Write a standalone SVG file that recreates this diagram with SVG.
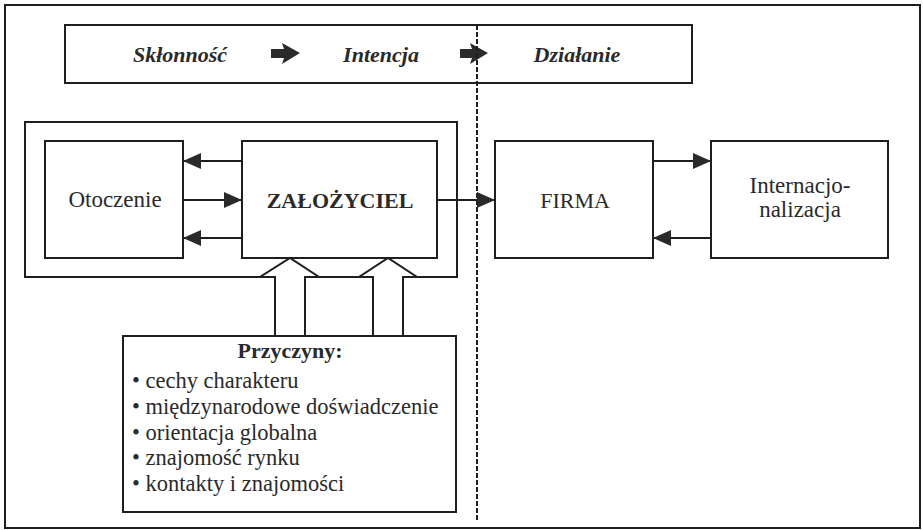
<svg xmlns="http://www.w3.org/2000/svg" width="923" height="530" viewBox="0 0 923 530">
<defs>
<style>
.box{fill:#fff;stroke:#1e1e1e;stroke-width:2}
.ln{fill:none;stroke:#1e1e1e;stroke-width:2}
.t{font-family:"Liberation Serif","DejaVu Serif",serif;font-size:22px;fill:#2a2a2a}
.li{font-size:22.5px}
.b{font-weight:bold}
.bi{font-weight:bold;font-style:italic}
.m{text-anchor:middle}
.blk{fill:#2a2a2a}
</style>
<marker id="ah" viewBox="0 0 18 16" refX="18" refY="8" markerWidth="18" markerHeight="16" markerUnits="userSpaceOnUse" orient="auto">
<path d="M0,0 L18,8 L0,16 Z" fill="#2a2a2a"/>
</marker>
</defs>
<rect x="0" y="0" width="923" height="530" fill="#fff"/>
<rect id="frame" x="5" y="5" width="915" height="523" class="ln"/>

<g id="phases">
<rect x="65" y="25" width="627" height="58" class="box"/>
<text class="t bi m" x="180" y="62">Skłonność</text>
<text class="t bi m" x="381" y="62">Intencja</text>
<text class="t bi m" x="577" y="62">Działanie</text>
<path class="blk" d="M271,49 L284,49 L282,43 L300,53 L282,64 L284,58 L271,58 Z"/>
<path class="blk" d="M460,49 L472,49 L470,43 L488,53 L470,64 L472,58 L460,58 Z"/>
</g>

<g id="container">
<path class="ln" d="M403,277 L457,277 L457,122 L25,122 L25,277 L275,277 M305,277 L373,277"/>
</g>

<g id="otoczenie">
<rect x="45" y="141" width="138" height="117" class="box"/>
<text class="t m" style="font-size:23px" x="115" y="207">Otoczenie</text>
</g>

<g id="zalozyciel">
<rect x="242" y="141" width="195" height="117" class="box"/>
<text class="t b m" x="340" y="208">ZAŁOŻYCIEL</text>
</g>

<g id="firma">
<rect x="495" y="141" width="158" height="117" class="box"/>
<text class="t m" x="575" y="208">FIRMA</text>
</g>

<g id="internacjonalizacja">
<rect x="711" y="141" width="177" height="117" class="box"/>
<text class="t m" style="font-size:23px" x="800" y="193">Internacjo-</text>
<text class="t m" style="font-size:23px" x="800" y="217">nalizacja</text>
</g>

<g id="przyczyny">
<rect x="123" y="336" width="333" height="176" class="box"/>
<text class="t b m" x="290" y="358">Przyczyny:</text>
<text class="t li" x="132" y="388">• cechy charakteru</text>
<text class="t li" x="132" y="414">• międzynarodowe doświadczenie</text>
<text class="t li" x="132" y="440">• orientacja globalna</text>
<text class="t li" x="132" y="465">• znajomość rynku</text>
<text class="t li" x="132" y="491">• kontakty i znajomości</text>
</g>

<g id="connectors">
<line class="ln" x1="477" y1="25" x2="477" y2="521" stroke-width="3" stroke-dasharray="5,2"/>
<line class="ln" x1="242" y1="161" x2="183" y2="161" marker-end="url(#ah)"/>
<line class="ln" x1="183" y1="200" x2="242" y2="200" marker-end="url(#ah)"/>
<line class="ln" x1="242" y1="238" x2="183" y2="238" marker-end="url(#ah)"/>
<line class="ln" x1="437" y1="200" x2="495" y2="200" marker-end="url(#ah)"/>
<line class="ln" x1="653" y1="161" x2="711" y2="161" marker-end="url(#ah)"/>
<line class="ln" x1="711" y1="238" x2="653" y2="238" marker-end="url(#ah)"/>
<path class="ln" d="M275,335 L275,277 L260,277 L290,258 L319,277 L305,277 L305,335"/>
<path class="ln" d="M373,335 L373,277 L359,277 L388,258 L417,277 L403,277 L403,335"/>
</g>
</svg>
